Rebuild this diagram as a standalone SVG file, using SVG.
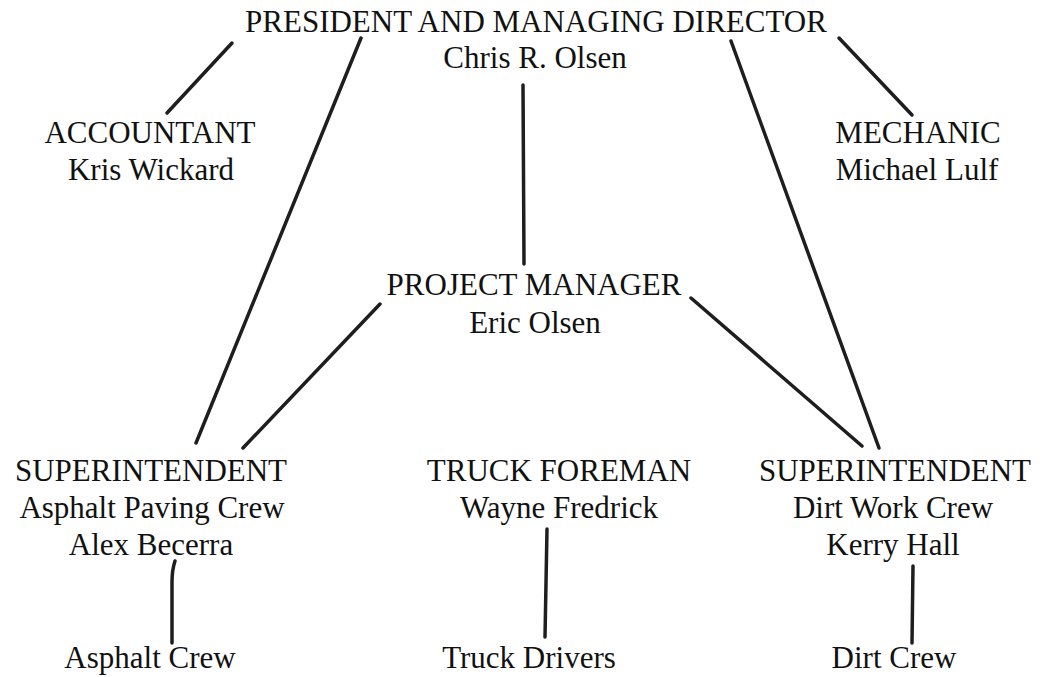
<svg xmlns="http://www.w3.org/2000/svg" width="1061" height="677" viewBox="0 0 1061 677">
<style>
text{font-family:"Liberation Serif","Times New Roman",serif;font-size:31px;fill:#111;text-anchor:middle}
.c line,.c path{stroke:#1e1e1e;stroke-width:3.5;stroke-linecap:round;fill:none}
</style>
<rect width="1061" height="677" fill="#fff"/>
<g class="c" id="connectors">
<line x1="232" y1="43" x2="167" y2="113"/>
<line x1="361" y1="38" x2="196" y2="443"/>
<line x1="731" y1="41" x2="879" y2="448"/>
<line x1="839" y1="38" x2="912" y2="115"/>
<line x1="523" y1="85" x2="524" y2="264"/>
<line x1="380" y1="304" x2="243" y2="448"/>
<line x1="691" y1="298" x2="862" y2="446"/>
<path d="M175 561 Q172 570 172 582 L172 643"/>
<line x1="547" y1="529" x2="545" y2="637"/>
<line x1="913" y1="566" x2="912" y2="643"/>
</g>
<g id="president"><text x="536" y="32">PRESIDENT AND MANAGING DIRECTOR</text><text x="535" y="68">Chris R. Olsen</text></g>
<g id="accountant"><text x="150" y="143">ACCOUNTANT</text><text x="151" y="180">Kris Wickard</text></g>
<g id="mechanic"><text x="918" y="143">MECHANIC</text><text x="917" y="180">Michael Lulf</text></g>
<g id="project-manager"><text x="534" y="295">PROJECT MANAGER</text><text x="535" y="333">Eric Olsen</text></g>
<g id="super-asphalt"><text x="151" y="481">SUPERINTENDENT</text><text x="152" y="518">Asphalt Paving Crew</text><text x="151" y="555">Alex Becerra</text></g>
<g id="truck-foreman"><text x="559" y="481">TRUCK FOREMAN</text><text x="559" y="518">Wayne Fredrick</text></g>
<g id="super-dirt"><text x="895" y="481">SUPERINTENDENT</text><text x="893" y="518">Dirt Work Crew</text><text x="893" y="555">Kerry Hall</text></g>
<g id="asphalt-crew"><text x="150" y="668">Asphalt Crew</text></g>
<g id="truck-drivers"><text x="529" y="668">Truck Drivers</text></g>
<g id="dirt-crew"><text x="894" y="668">Dirt Crew</text></g>
</svg>
